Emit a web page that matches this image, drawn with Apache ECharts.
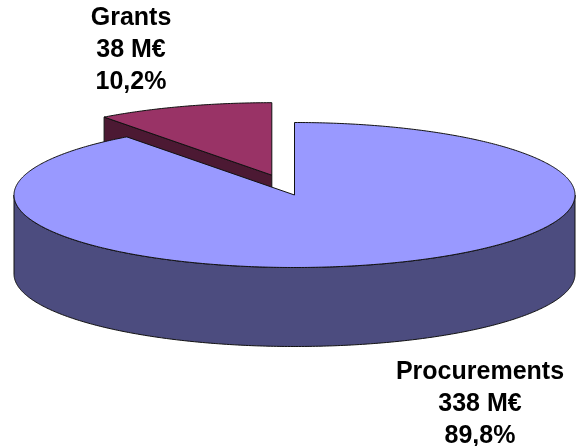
<!DOCTYPE html>
<html>
<head>
<meta charset="utf-8">
<script src="https://cdn.jsdelivr.net/npm/echarts@6/dist/echarts.min.js"></script>
<style>
  html, body { margin: 0; background: #fff; }
  #chart { width: 576px; height: 446px; }
</style>
</head>
<body>
<div id="chart"></div>
<script>
// data
const categories = ["Procurements", "Grants"];
const amounts = [338, 38]; // M€
const shares = [89.8, 10.2]; // %

// look
const TOP_COLORS = ["#9999FF", "#993366"];
const SIDE_COLORS = ["#4C4C7F", "#4C1933"];
const EXPLODE = [0, 72];
const CX = 294.5, CY = 195, RX = 280.5, RY = 72.5, DEPTH = 79;
const EXPLODE_TILT = 0.29;
const FONT = 'bold 25px "Liberation Sans", Arial, sans-serif';

const total = shares.reduce((a, b) => a + b, 0);

// 3D pie slice, angles clockwise from 12 o'clock
function renderItem(params, api) {
  const i = params.dataIndex;
  let start = 0;
  for (let k = 0; k < i; k++) start += shares[k];
  const a0 = (start / total) * 2 * Math.PI;
  const a1 = ((start + api.value(0)) / total) * 2 * Math.PI;
  const mid = (a0 + a1) / 2;
  const ox = CX + EXPLODE[i] * Math.sin(mid);
  const oy = CY - EXPLODE[i] * Math.cos(mid) * EXPLODE_TILT;
  const pt = (a, dy) => [ox + RX * Math.sin(a), oy - RY * Math.cos(a) + (dy || 0)];
  const arc = (from, to, dy) => {
    const n = Math.max(2, Math.ceil(Math.abs(to - from) / 0.01));
    const pts = [];
    for (let k = 0; k <= n; k++) pts.push(pt(from + ((to - from) * k) / n, dy));
    return pts;
  };
  const z2 = Math.round(20 - Math.cos(mid) * 10);
  const edge = { stroke: "#111", lineWidth: 1, lineJoin: "round" };
  const children = [];

  // radial faces, only those turned to the viewer
  if (Math.sin(a0) < -1e-6) {
    children.push({
      type: "polygon", z2,
      shape: { points: [[ox, oy], pt(a0), pt(a0, DEPTH), [ox, oy + DEPTH]] },
      style: Object.assign({ fill: SIDE_COLORS[i] }, edge),
    });
  }
  if (Math.sin(a1) > 1e-6) {
    children.push({
      type: "polygon", z2,
      shape: { points: [[ox, oy], pt(a1), pt(a1, DEPTH), [ox, oy + DEPTH]] },
      style: Object.assign({ fill: SIDE_COLORS[i] }, edge),
    });
  }
  // front rim
  const f0 = Math.max(a0, Math.PI / 2), f1 = Math.min(a1, (3 * Math.PI) / 2);
  if (f1 > f0) {
    children.push({
      type: "polygon", z2: z2 + 1,
      shape: { points: arc(f0, f1, 0).concat(arc(f1, f0, DEPTH)) },
      style: Object.assign({ fill: SIDE_COLORS[i] }, edge),
    });
  }
  // top face
  children.push({
    type: "polygon", z2: z2 + 2,
    shape: { points: [[ox, oy]].concat(arc(a0, a1, 0)) },
    style: Object.assign({ fill: TOP_COLORS[i] }, edge),
  });
  return { type: "group", children };
}

const fmtPct = (v) => v.toFixed(1).replace(".", ",") + "%";
const labelText = (i) => categories[i] + "\n" + amounts[i] + " M€\n" + fmtPct(shares[i]);

const chart = echarts.init(document.getElementById("chart"), null, { renderer: "canvas" });
chart.setOption({
  animation: false,
  backgroundColor: "#fff",
  series: [
    {
      type: "custom",
      coordinateSystem: "none",
      renderItem,
      data: categories.map((c, i) => ({ name: c, value: [shares[i]] })),
    },
  ],
  graphic: [
    {
      type: "text", x: 131, y: 50, z: 10,
      style: { text: labelText(1), font: FONT, fill: "#000", align: "center", verticalAlign: "middle", lineHeight: 32 },
    },
    {
      type: "text", x: 480, y: 404, z: 10,
      style: { text: labelText(0), font: FONT, fill: "#000", align: "center", verticalAlign: "middle", lineHeight: 32 },
    },
  ],
});
</script>
</body>
</html>
